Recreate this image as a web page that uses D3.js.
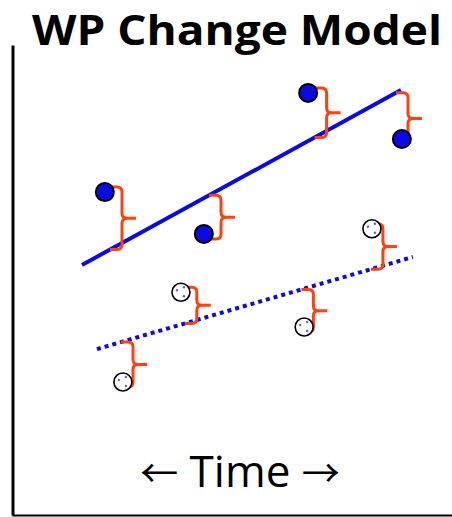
<!DOCTYPE html>
<html lang="en">
<head>
    <meta charset="UTF-8">
    <title>WP Change Model</title>
    <script src="https://cdn.jsdelivr.net/npm/d3@7/dist/d3.min.js"></script>
    <style>
        body { margin: 0; background: #fff; }
        .axis path { stroke: #000; }
        .title { font: bold 42px "Open Sans", sans-serif; }
        .xlabel { font: 44px "Open Sans", sans-serif; }
        .arrow { font: 38px "Noto Sans CJK JP", "DejaVu Sans", sans-serif; }
    </style>
</head>
<body>
<svg width="452" height="517"></svg>
<script>
    // time / level, abstract units 0..100
    const filledT = [21.1, 43.6, 67.3, 88.6];
    const filledY = [68.7, 59.8, 89.8, 80.0];
    const solidLineT = [15.9, 88.4];
    const solidLineY = [53.2, 90.4];
    const filledBraceT = [25.0, 47.5, 71.5, 90.0];

    const openT = [25.2, 38.4, 66.4, 81.8];
    const openY = [28.3, 47.4, 40.0, 60.9];
    const dottedLineT = [19.3, 91.1];
    const dottedLineY = [35.3, 54.9];
    const openBraceT = [27.5, 42.0, 68.5, 84.3];

    const svg = d3.select("svg"),
        width = 452, height = 517;

    const x = d3.scaleLinear().domain([0, 100]).range([12, 452]);
    const y = d3.scaleLinear().domain([0, 100]).range([515, 45]);

    // axes without ticks
    svg.append("g")
        .attr("class", "axis")
        .attr("transform", `translate(${x(0) + 0.5},0)`)
        .call(d3.axisLeft(y).tickValues([]).tickSizeOuter(0))
        .select("path").attr("stroke-width", 3);
    svg.append("g")
        .attr("class", "axis")
        .attr("transform", `translate(0,${y(0)})`)
        .call(d3.axisBottom(x).tickValues([]).tickSizeOuter(0))
        .select("path").attr("stroke-width", 2);

    const line = d3.line().x(d => x(d[0])).y(d => y(d[1]));
    const solid = d3.zip(solidLineT, solidLineY);
    const dotted = d3.zip(dottedLineT, dottedLineY);

    svg.append("path").attr("d", line(solid))
        .attr("stroke", "#0a0ae6").attr("stroke-width", 4).attr("fill", "none");
    svg.append("path").attr("d", line(dotted))
        .attr("stroke", "#0a0ae6").attr("stroke-width", 4).attr("fill", "none")
        .attr("stroke-dasharray", "4,4");

    // value of a fitted line at time t
    function lineAt(pts, t) {
        const [a, b] = pts;
        return a[1] + (b[1] - a[1]) * (t - a[0]) / (b[0] - a[0]);
    }

    // curly brace "}" from y0 to y1, arms starting at xl, spine at xv
    function brace(xl, xv, y0, y1) {
        const top = Math.min(y0, y1), bot = Math.max(y0, y1);
        const ym = (top + bot) / 2, r = 5, tip = 14;
        return `M${xl},${top} L${xv - r},${top} Q${xv},${top} ${xv},${top + r}` +
            ` L${xv},${ym - r} Q${xv},${ym} ${xv + r},${ym} L${xv + tip},${ym}` +
            ` M${xv + r},${ym} Q${xv},${ym} ${xv},${ym + r}` +
            ` L${xv},${bot - r} Q${xv},${bot} ${xv - r},${bot} L${xl},${bot}`;
    }

    function drawBraces(ts, vs, bts, pts) {
        ts.forEach((t, i) => {
            const xv = x(bts[i]);
            const xl = xv - 12;
            const yp = y(vs[i]);
            const yl = y(lineAt(pts, bts[i] - 12 / 4.4));
            const dir = yl > yp ? 1 : -1;
            svg.append("path")
                .attr("d", brace(xl, xv, yp - dir * 5, yl))
                .attr("stroke", "#ff4010").attr("stroke-width", 3)
                .attr("fill", "none").attr("stroke-linejoin", "round");
        });
    }
    drawBraces(filledT, filledY, filledBraceT, solid);
    drawBraces(openT, openY, openBraceT, dotted);

    // observed points
    svg.selectAll(".filled")
        .data(d3.zip(filledT, filledY))
        .enter().append("circle")
        .attr("cx", d => x(d[0])).attr("cy", d => y(d[1]))
        .attr("r", 9).attr("fill", "#0a0ae6")
        .attr("stroke", "#000").attr("stroke-width", 2);

    // open points with faint dots
    const open = svg.selectAll(".open")
        .data(d3.zip(openT, openY))
        .enter().append("g")
        .attr("transform", d => `translate(${x(d[0])},${y(d[1])})`);
    open.append("circle")
        .attr("r", 9).attr("fill", "#fff")
        .attr("stroke", "#000").attr("stroke-width", 1.6);
    open.selectAll("circle.dot")
        .data([[-4, -2], [3, -5], [3, 4]])
        .enter().append("circle")
        .attr("class", "dot")
        .attr("cx", d => d[0]).attr("cy", d => d[1])
        .attr("r", 1.2).attr("fill", "#5560ff");

    svg.append("text")
        .attr("class", "title")
        .attr("x", 237).attr("y", 45)
        .attr("text-anchor", "middle")
        .attr("textLength", 410)
        .attr("lengthAdjust", "spacingAndGlyphs")
        .text("WP Change Model");

    const xl = svg.append("text")
        .attr("class", "xlabel")
        .attr("x", 240).attr("y", 487)
        .attr("text-anchor", "middle");
    xl.append("tspan").attr("class", "arrow").text("←");
    xl.append("tspan").text(" Time ");
    xl.append("tspan").attr("class", "arrow").text("→");
</script>
</body>
</html>
